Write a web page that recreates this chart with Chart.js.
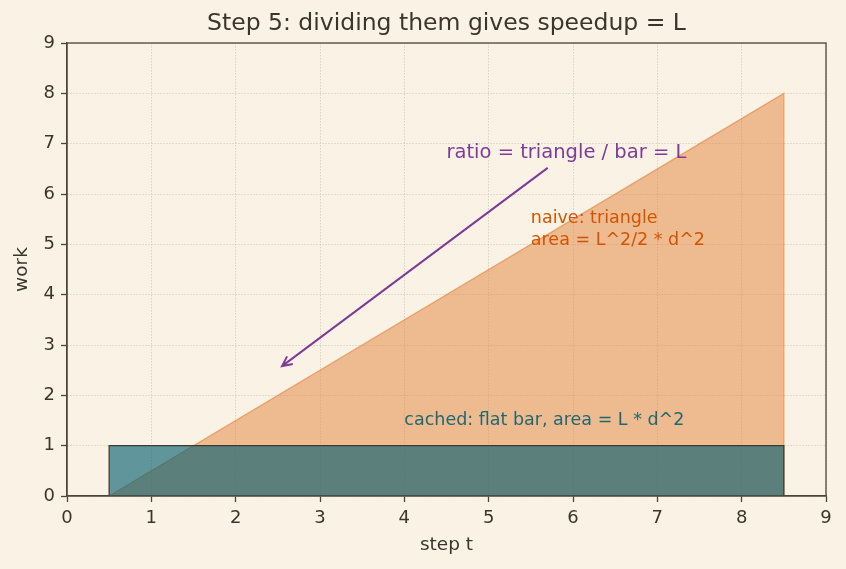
<!DOCTYPE html>
<html>
<head>
<meta charset="utf-8">
<script src="https://cdn.jsdelivr.net/npm/chart.js@4.4.1/dist/chart.umd.min.js"></script>
<style>
  html, body { margin: 0; padding: 0; background: #faf2e4; }
  #wrap { width: 846px; height: 569px; }
</style>
</head>
<body>
<div id="wrap"><canvas id="c"></canvas></div>
<script>
// data
const triangleX = [0.5, 8.5, 8.5];
const triangleY = [0, 8, 0];
const barX = [0.5, 0.5, 8.5, 8.5];
const barY = [0, 1, 1, 0];
const xTicks = [0, 1, 2, 3, 4, 5, 6, 7, 8, 9];
const yTicks = [0, 1, 2, 3, 4, 5, 6, 7, 8, 9];
const arrowFrom = [5.7, 6.52];
const arrowTo = [2.55, 2.58];
const notes = [
  { x: 4.5, y: 6.81, text: 'ratio = triangle / bar = L', color: '#7d3c98', size: 19.5 },
  { x: 5.5, y: 5.52, text: 'naive: triangle', color: '#d35400', size: 17.5 },
  { x: 5.5, y: 5.08, text: 'area = L^2/2 * d^2', color: '#d35400', size: 17.5 },
  { x: 4.0, y: 1.51, text: 'cached: flat bar, area = L * d^2', color: '#1f6870', size: 17.5 }
];

const ink = '#3d342b';
const frame = '#4d4539';
const font = 'DejaVu Sans';
const toPts = (xs, ys) => xs.map((x, i) => ({ x, y: ys[i] }));

// arrow + text notes
const notesPlugin = {
  id: 'notes',
  afterDraw(chart) {
    const { ctx, chartArea: area, scales: { x, y } } = chart;
    ctx.save();
    // top / right frame
    ctx.strokeStyle = frame;
    ctx.lineWidth = 1.3;
    ctx.strokeRect(area.left, area.top, area.right - area.left, area.bottom - area.top);

    const x1 = x.getPixelForValue(arrowFrom[0]), y1 = y.getPixelForValue(arrowFrom[1]);
    const x2 = x.getPixelForValue(arrowTo[0]), y2 = y.getPixelForValue(arrowTo[1]);
    ctx.strokeStyle = '#7d3c98';
    ctx.lineWidth = 2;
    ctx.beginPath();
    ctx.moveTo(x1, y1);
    ctx.lineTo(x2, y2);
    const a = Math.atan2(y2 - y1, x2 - x1);
    const h = 11;
    ctx.moveTo(x2 - h * Math.cos(a - 0.45), y2 - h * Math.sin(a - 0.45));
    ctx.lineTo(x2, y2);
    ctx.lineTo(x2 - h * Math.cos(a + 0.45), y2 - h * Math.sin(a + 0.45));
    ctx.stroke();
    ctx.textBaseline = 'middle';
    ctx.textAlign = 'left';
    notes.forEach(n => {
      ctx.fillStyle = n.color;
      ctx.font = `${n.size}px "${font}"`;
      ctx.fillText(n.text, x.getPixelForValue(n.x), y.getPixelForValue(n.y));
    });
    ctx.restore();
  }
};

const axis = (title, ticks, extra) => Object.assign({
  type: 'linear',
  min: 0,
  max: 9,
  z: 1,
  afterBuildTicks: s => { s.ticks = ticks.map(v => ({ value: v })); },
  border: { display: true, color: frame, width: 1.3, dash: [1.5, 1.5] },
  grid: {
    color: 'rgba(200,192,170,0.75)',
    lineWidth: 0.8,
    tickColor: frame,
    tickWidth: 1.3,
    tickLength: 6
  }
}, extra);

new Chart(document.getElementById('c'), {
  type: 'scatter',
  data: {
    datasets: [
      {
        data: toPts(barX, barY),
        showLine: true,
        fill: 'origin',
        backgroundColor: 'rgba(0,92,110,0.62)',
        borderColor: '#3d3a33',
        borderWidth: 1.3,
        pointRadius: 0,
        tension: 0
      },
      {
        data: toPts(triangleX, triangleY),
        showLine: true,
        fill: 'origin',
        backgroundColor: 'rgba(225,130,60,0.5)',
        borderColor: 'rgba(225,130,60,0.6)',
        borderWidth: 1.3,
        pointRadius: 0,
        tension: 0
      }
    ]
  },
  options: {
    responsive: true,
    maintainAspectRatio: false,
    animation: false,
    layout: { padding: { left: 0, right: 20, top: 0, bottom: 0 } },
    plugins: {
      legend: { display: false },
      tooltip: { enabled: false },
      title: {
        display: true,
        fullSize: false,
        text: 'Step 5: dividing them gives speedup = L',
        color: ink,
        font: { family: font, size: 23.5, weight: 'normal' },
        padding: { top: 10, bottom: 4.8 }
      }
    },
    scales: {
      x: axis('step t', xTicks, {
        position: 'bottom',
        afterFit: s => { s.height = 73; },
        title: { display: true, text: 'step t', color: ink, padding: { top: 0, bottom: 13 },
                 font: { family: font, size: 18.5 } },
        ticks: { color: ink, font: { family: font, size: 18 }, padding: 6 }
      }),
      y: axis('work', yTicks, {
        position: 'left',
        afterFit: s => { s.width = 67; },
        title: { display: true, text: 'work', color: ink, padding: { top: 11, bottom: 0 },
                 font: { family: font, size: 18.5 } },
        ticks: { color: ink, font: { family: font, size: 18 }, padding: 6 }
      })
    }
  },
  plugins: [notesPlugin, {
    id: 'bg',
    beforeDraw(chart) {
      const { ctx } = chart;
      ctx.save();
      ctx.fillStyle = '#faf2e4';
      ctx.fillRect(0, 0, chart.width, chart.height);
      ctx.restore();
    }
  }]
});
</script>
</body>
</html>
